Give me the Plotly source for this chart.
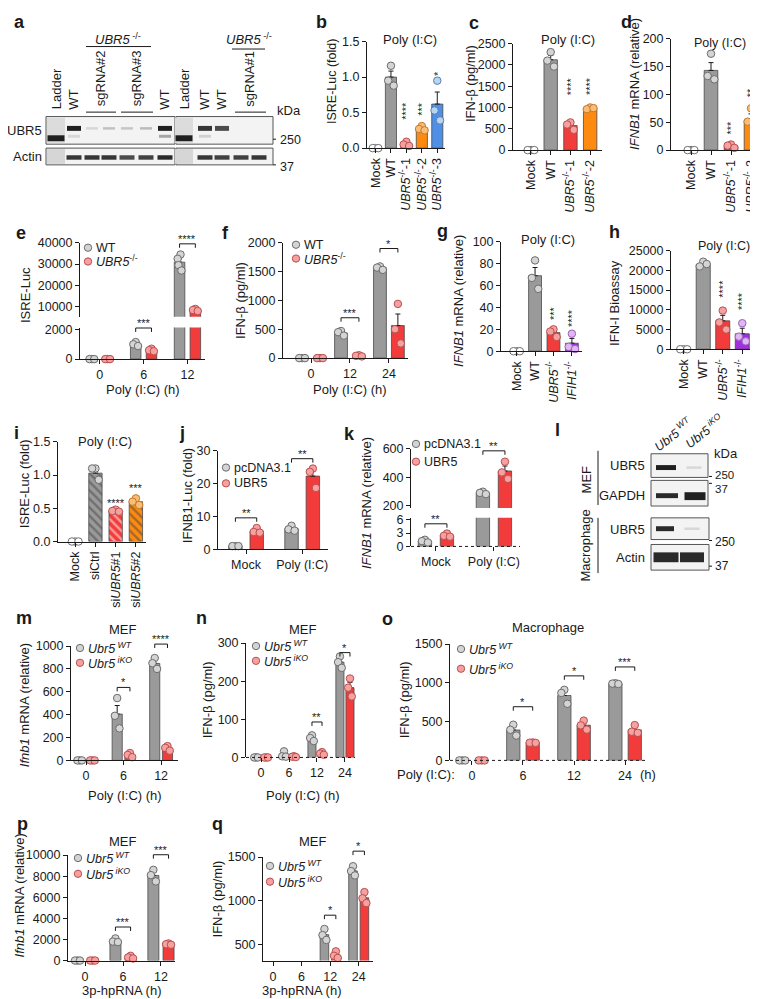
import plotly.graph_objects as go

# ============================ DATA ============================
# a: western blot, band intensity per lane (0..1)
A_LANES = ["Ladder", "WT", "sgRNA#2", "sgRNA#2", "sgRNA#3", "sgRNA#3", "WT", "Ladder", "WT", "WT", "sgRNA#1", "sgRNA#1"]
A_UBR5 = [0.0, 0.95, 0.12, 0.22, 0.2, 0.25, 0.95, 0.0, 0.85, 0.75, 0.0, 0.0]
A_UBR5_LOW = [0.0, 0.12, 0.0, 0.0, 0.0, 0.0, 0.35, 0.0, 0.15, 0.0, 0.0, 0.0]
A_LADDER = [0.95, 0, 0, 0, 0, 0, 0, 0.95, 0, 0, 0, 0]
A_ACTIN = [0.0, 0.85, 0.85, 0.85, 0.75, 0.8, 0.9, 0.0, 0.85, 0.8, 0.8, 0.85]

# b
B_CATS = ["Mock", "WT", "<i>UBR5</i><sup>-/-</sup>-1", "<i>UBR5</i><sup>-/-</sup>-2", "<i>UBR5</i><sup>-/-</sup>-3"]
B_MEAN = [None, 1.0, 0.06, 0.28, 0.62]
B_SEM = [0, 0.085, 0.018, 0.018, 0.17]
B_PTS = [[0, 0, 0], [1.16, 0.95, 0.88], [0.09, 0.05, 0.03], [0.31, 0.27, 0.25], [0.95, 0.53, 0.39]]
B_SIG = ["", "", "****", "***", "*"]
B_SIG_Y = [None, None, 0.39, 0.44, 1.0]
# c
C_CATS = ["Mock", "WT", "<i>UBR5</i><sup>-/-</sup>-1", "<i>UBR5</i><sup>-/-</sup>-2"]
C_MEAN = [None, 2120, 575, 975]
C_SEM = [0, 100, 55, 12]
C_PTS = [[0, 0, 0], [2300, 2100, 1960], [650, 600, 475], [1000, 960, 985]]
C_SIG = ["", "", "****", "****"]
C_SIG_Y = [None, None, 1273, 1273]
# d
D_CATS = ["Mock", "WT", "<i>UBR5</i><sup>-/-</sup>-1", "<i>UBR5</i><sup>-/-</sup>-2"]
D_MEAN = [None, 143, 7, 53]
D_SEM = [0, 14, 2, 12]
D_PTS = [[0, 0, 0], [173, 133, 127], [10, 8, 4], [75, 51, 34]]
D_SIG = ["", "", "***", "**"]
D_SIG_Y = [None, None, 26, 92]
# e
E_TIMES = ["0", "6", "12"]
E_WT_MEAN = [None, 1010, 30900]
E_WT_SEM = [0, 80, 1600]
E_WT_PTS = [[0, 0, 0], [1150, 1000, 880], [34500, 32500, 29500, 27000]]
E_KO_MEAN = [None, 610, 8500]
E_KO_SEM = [0, 50, 300]
E_KO_PTS = [[0, 0, 0], [700, 600, 530], [9000, 8500, 8000]]
E_SIG = ["", "***", "****"]
E_SIG_Y = [None, 2100, 39500]
# f
F_TIMES = ["0", "12", "24"]
F_WT_MEAN = [None, 435, 1565]
F_WT_SEM = [0, 20, 18]
F_WT_PTS = [[0, 0, 0], [470, 450, 390], [1590, 1570, 1530]]
F_KO_MEAN = [None, 40, 565]
F_KO_SEM = [0, 5, 200]
F_KO_PTS = [[0, 0, 0], [50, 40, 30], [940, 500, 255]]
F_SIG = ["", "***", "*"]
F_SIG_Y = [None, 700, 1900]
# g
G_CATS = ["Mock", "WT", "<i>UBR5</i><sup>-/-</sup>", "<i>IFIH1</i><sup>-/-</sup>"]
G_MEAN = [None, 69, 17, 7.3]
G_SEM = [0, 7.5, 2, 4.4]
G_PTS = [[0, 0, 0], [83, 67, 57], [20, 18, 13], [16, 4, 2]]
G_SIG = ["", "", "***", "****"]
G_SIG_Y = [None, None, 28, 21]
# h
H_CATS = ["Mock", "WT", "<i>UBR5</i><sup>-/-</sup>", "<i>IFIH1</i><sup>-/-</sup>"]
H_MEAN = [None, 21500, 7200, 3930]
H_SEM = [0, 350, 1400, 1400]
H_PTS = [[0, 0, 0], [22200, 21000, 21600], [9800, 6800, 5000], [6600, 3200, 2000]]
H_SIG = ["", "", "****", "****"]
H_SIG_Y = [None, None, 12750, 9750]
# i
I_CATS = ["Mock", "siCtrl", "si<i>UBR5</i>#1", "si<i>UBR5</i>#2"]
I_MEAN = [None, 1.03, 0.46, 0.6]
I_SEM = [0, 0.05, 0.01, 0.03]
I_PTS = [[0, 0, 0], [1.1, 1.1, 0.93], [0.48, 0.46, 0.45], [0.65, 0.6, 0.55]]
I_SIG = ["", "", "****", "***"]
I_SIG_Y = [None, None, 0.52, 0.74]
# j
J_GROUPS = ["Mock", "Poly (I:C)"]
J_PC_MEAN = [1.0, 6.3]
J_PC_SEM = [0.05, 0.45]
J_PC_PTS = [[1.0, 1.0, 1.0], [7.2, 6.1, 5.7]]
J_UB_MEAN = [5.6, 22.3]
J_UB_SEM = [0.45, 1.9]
J_UB_PTS = [[6.5, 5.3, 5.1], [24.6, 23.6, 18.7]]
J_SIG = ["**", "**"]
J_SIG_Y = [9.6, 27.6]
# k
K_GROUPS = ["Mock", "Poly (I:C)"]
K_PC_MEAN = [1.2, 292]
K_PC_SEM = [0.2, 6]
K_PC_PTS = [[1.5, 1.2, 0.9], [300, 292, 283]]
K_UB_MEAN = [2.5, 445]
K_UB_SEM = [0.2, 35]
K_UB_PTS = [[2.9, 2.4, 2.2], [510, 435, 390]]
K_SIG = ["**", "**"]
K_SIG_Y = [5.1, 586]
# m
M_TIMES = ["0", "6", "12"]
M_WT_MEAN = [None, 405, 848]
M_WT_SEM = [0, 75, 28]
M_WT_PTS = [[0, 0, 0], [545, 390, 280], [895, 850, 800]]
M_KO_MEAN = [None, 47, 107]
M_KO_SEM = [0, 11, 12]
M_KO_PTS = [[0, 0, 0], [65, 48, 28], [125, 110, 85]]
M_SIG = ["", "*", "****"]
M_SIG_Y = [None, 638, 1017]
# n
N_TIMES = ["0", "6", "12", "24"]
N_WT_MEAN = [None, 7, 51, 250]
N_WT_SEM = [0, 4.5, 4, 9]
N_WT_PTS = [[0, 0, 0], [16, 3, 2], [58, 51, 43], [265, 250, 235]]
N_KO_MEAN = [None, 2, 10, 183]
N_KO_SEM = [0, 0.6, 2, 14]
N_KO_PTS = [[0, 0, 0], [3, 2, 1], [14, 10, 7], [207, 183, 160]]
N_SIG = ["", "", "**", "*"]
N_SIG_Y = [None, None, 93, 275]
# o
O_TIMES = ["0", "6", "12", "24"]
O_WT_MEAN = [None, 392, 837, 990]
O_WT_SEM = [0, 40, 55, 3]
O_WT_PTS = [[0, 0, 0], [460, 395, 320], [910, 870, 730], [995, 990, 985]]
O_KO_MEAN = [None, 229, 454, 393]
O_KO_SEM = [0, 2, 33, 31]
O_KO_PTS = [[0, 0, 0], [232, 228, 226], [513, 452, 397], [455, 370, 355]]
O_SIG = ["", "*", "*", "***"]
O_SIG_Y = [None, 692, 1090, 1205]
# p
P_TIMES = ["0", "6", "12"]
P_WT_MEAN = [None, 1880, 8070]
P_WT_SEM = [0, 110, 320]
P_WT_PTS = [[0, 0, 0], [2100, 1800, 1750], [8600, 8100, 7500]]
P_KO_MEAN = [None, 320, 1560]
P_KO_SEM = [0, 70, 35]
P_KO_PTS = [[0, 0, 0], [450, 300, 200], [1620, 1550, 1500]]
P_SIG = ["", "***", "***"]
P_SIG_Y = [None, 3180, 10030]
# q
Q_TIMES = ["0", "6", "12", "24"]
Q_WT_MEAN = [None, None, 615, 1342]
Q_WT_SEM = [0, 0, 37, 30]
Q_WT_PTS = [[], [], [680, 610, 555], [1395, 1340, 1290]]
Q_KO_MEAN = [None, None, 383, 1035]
Q_KO_SEM = [0, 0, 24, 36]
Q_KO_PTS = [[], [], [425, 375, 350], [1100, 1030, 975]]
Q_SIG = ["", "", "*", "*"]
Q_SIG_Y = [None, None, 837, 1567]

# ============================ STYLE ============================
W, H = 758, 999
FONT = "Arial, Liberation Sans, Helvetica, sans-serif"
INK = "#1a1a1a"
BAR_EDGE = "#4a4a4a"
GRAY = ("#9a9a9a", "#d4d4d4", "#6c6c6c")
RED = ("#f23c3c", "#f6a0a0", "#b85050")
ORANGE = ("#ff8a10", "#fbbd76", "#c27a2c")
BLUE = ("#4f8fe6", "#b8d4f3", "#5b7fae")
PURPLE = ("#a12fe0", "#dfb7f2", "#9a62b8")
OPEN = ("#ffffff", "#ffffff", "#707070")
TICK = 12.5
LAB = 13

fig = go.Figure()
LAY = {}
ANN = []
SHP = []


def fx(px):
    return px / W


def fy(py):
    return 1 - py / H


def text(x, y, s, size=12.5, xa="center", ya="middle", angle=0, color=INK):
    ANN.append(dict(x=fx(x), y=fy(y), xref="paper", yref="paper", text=s, showarrow=False,
                    xanchor=xa, yanchor=ya, textangle=angle, borderpad=0,
                    font=dict(family=FONT, size=size, color=color)))


def line(x0, y0, x1, y1, color=INK, width=1, dash=None):
    ln = dict(color=color, width=width)
    if dash:
        ln["dash"] = dash
    SHP.append(dict(type="line", xref="paper", yref="paper", x0=fx(x0), y0=fy(y0),
                    x1=fx(x1), y1=fy(y1), line=ln))


def box(x0, y0, x1, y1, fill=None, color=None, width=0):
    SHP.append(dict(type="rect", xref="paper", yref="paper", x0=fx(x0), y0=fy(y1), x1=fx(x1), y1=fy(y0),
                    line=dict(width=width, color=color or "rgba(0,0,0,0)"),
                    fillcolor=fill or "rgba(0,0,0,0)"))


def band(cx, cy, w, h, a):
    SHP.append(dict(type="rect", xref="paper", yref="paper", x0=fx(cx - w / 2), x1=fx(cx + w / 2),
                    y0=fy(cy + h / 2), y1=fy(cy - h / 2), line=dict(width=0),
                    fillcolor="rgba(20,20,20,%.2f)" % a))


def circle(cx, cy, r, fill, edge):
    SHP.append(dict(type="circle", xref="paper", yref="paper", x0=fx(cx - r), x1=fx(cx + r),
                    y0=fy(cy + r), y1=fy(cy - r), fillcolor=fill, line=dict(color=edge, width=1)))


def letter(x, y, s):
    text(x, y, "<b>%s</b>" % s, size=18, xa="left", ya="middle")


def fmt(v):
    return str(int(v)) if float(v).is_integer() else str(v)


class Panel:
    count = 0

    def __init__(self, x0, x1, ytop, ybot, xr, yr):
        self.x0, self.x1, self.ytop, self.ybot, self.xr, self.yr = x0, x1, ytop, ybot, xr, yr
        Panel.count += 1
        self.sfx = "" if Panel.count == 1 else str(Panel.count)
        self.xref, self.yref = "x" + self.sfx, "y" + self.sfx

    def X(self, v):
        return self.x0 + (v - self.xr[0]) / (self.xr[1] - self.xr[0]) * (self.x1 - self.x0)

    def Y(self, v):
        return self.ybot - (v - self.yr[0]) / (self.yr[1] - self.yr[0]) * (self.ybot - self.ytop)

    def axes(self, xtv=None, xtt=None, xangle=0, ytv=None, ytt=None, show_x=True, show_y=True,
             xline=True, xfont=TICK, yfont=TICK):
        base = dict(showgrid=False, zeroline=False, linecolor=INK, linewidth=1, tickcolor=INK,
                    tickwidth=1, ticklen=4, fixedrange=True)
        xa = dict(base, domain=[fx(self.x0), fx(self.x1)], range=list(self.xr), anchor=self.yref,
                  showline=show_x and xline)
        if show_x and xtv is not None:
            xa.update(ticks="outside", tickmode="array", tickvals=xtv, ticktext=xtt, tickangle=xangle,
                      tickfont=dict(family=FONT, size=xfont, color=INK))
        else:
            xa.update(ticks="", showticklabels=False)
        ya = dict(base, domain=[fy(self.ybot), fy(self.ytop)], range=list(self.yr), anchor=self.xref,
                  showline=show_y)
        if show_y and ytv is not None:
            ya.update(ticks="outside", tickmode="array", tickvals=ytv,
                      ticktext=ytt if ytt else [fmt(v) for v in ytv],
                      tickfont=dict(family=FONT, size=yfont, color=INK))
        else:
            ya.update(ticks="", showticklabels=False)
        LAY["xaxis" + self.sfx] = xa
        LAY["yaxis" + self.sfx] = ya
        if show_x and not xline:
            line(self.x0, self.ybot, self.x1, self.ybot, dash="dot")


JIT = {1: [0.0], 2: [-0.6, 0.6], 3: [0.0, -0.75, 0.75], 4: [0.3, -0.6, -0.35, 0.6]}


def draw_bars(p, xs, means, sems, fills, width, patterns=None):
    keep = [i for i, m in enumerate(means) if m is not None]
    if not keep:
        return
    marker = dict(color=[fills[i] for i in keep], line=dict(color=BAR_EDGE, width=0.8))
    if patterns:
        marker["pattern"] = dict(shape=[patterns[i] for i in keep], fgcolor="white", size=6, solidity=0.4)
    fig.add_trace(go.Bar(x=[xs[i] for i in keep], y=[means[i] for i in keep], width=width, marker=marker,
                         error_y=dict(type="data", symmetric=False, array=[sems[i] for i in keep],
                                      arrayminus=[0] * len(keep), color=INK, thickness=1, width=2.5),
                         xaxis=p.xref, yaxis=p.yref, showlegend=False, hoverinfo="skip"))


def draw_points(p, xs, pts, fills, edges, spread, keep=None, size=7.5):
    X, Y, C, E = [], [], [], []
    for i, (x, vals) in enumerate(zip(xs, pts)):
        offs = JIT.get(len(vals), [0.0] * len(vals))
        for o, v in zip(offs, vals):
            if keep is not None and not keep(v):
                continue
            X.append(x + o * spread)
            Y.append(v)
            C.append(fills[i])
            E.append(edges[i])
    if X:
        fig.add_trace(go.Scatter(x=X, y=Y, mode="markers", cliponaxis=False,
                                 marker=dict(size=size, color=C, line=dict(color=E, width=1)),
                                 xaxis=p.xref, yaxis=p.yref, showlegend=False, hoverinfo="skip"))


def series(p, xs, means, sems, pts, col, width, keep=None):
    n = len(xs)
    draw_bars(p, xs, means, sems, [col[0]] * n, width)
    draw_points(p, xs, pts, [col[1]] * n, [col[2]] * n, width * 0.3, keep=keep)


def bracket(p, xa, xb, yv, s, leg=4, size=11):
    x0, x1, y = p.X(xa), p.X(xb), p.Y(yv)
    SHP.append(dict(type="path", xref="paper", yref="paper",
                    path="M %f,%f L %f,%f L %f,%f L %f,%f" % (fx(x0), fy(y + leg), fx(x0), fy(y), fx(x1), fy(y),
                                                               fx(x1), fy(y + leg)),
                    line=dict(color=INK, width=1)))
    text((x0 + x1) / 2, y + 2, s, size=size, ya="bottom")


def legend(x, y, col, label, size=12.5):
    circle(x, y, 3.7, col[1], col[2])
    text(x + 7, y, label, size=size, xa="left")


def cat_panel(p, cats, means, sems, pts, cols, width, ytv, ytt, sig, sig_y, vertical=True, patterns=None,
              xfont=TICK):
    xs = list(range(len(cats)))
    p.axes(xtv=xs, xtt=cats, xangle=-90, ytv=ytv, ytt=ytt, xfont=xfont)
    draw_bars(p, xs, means, sems, [c[0] for c in cols], width, patterns)
    draw_points(p, xs, pts, [c[1] for c in cols], [c[2] for c in cols], width * 0.33)
    for i, s in enumerate(sig):
        if s:
            if vertical:
                text(p.X(xs[i]), p.Y(sig_y[i]), s, size=11, ya="bottom", angle=-90)
            else:
                text(p.X(xs[i]), p.Y(sig_y[i]) + 3, s, size=11, ya="bottom")


def grouped(p, times, wt, ko, off, width, sig, sig_y, ytv, xtt=None, xline=True, cols=(GRAY, RED)):
    xs = list(range(len(times)))
    p.axes(xtv=xs, xtt=xtt or times, ytv=ytv, xline=xline)
    series(p, [x - off for x in xs], wt[0], wt[1], wt[2], cols[0], width)
    series(p, [x + off for x in xs], ko[0], ko[1], ko[2], cols[1], width)
    for i, s in enumerate(sig):
        if s:
            bracket(p, xs[i] - off, xs[i] + off, sig_y[i], s)


# ============================ a: blot ============================
A_X = [48, 66, 84, 101, 119, 138, 157, 176, 197, 214, 233, 251]
for xa_, xb_ in [(38, 167), (168, 265)]:
    box(xa_, 103, xb_, 131, fill="#f3f3f3", color="#555555", width=1)
    box(xa_, 135, xb_, 152, fill="#f3f3f3", color="#555555", width=1)
for i, x in enumerate(A_X):
    if A_LADDER[i] > 0:
        box(x - 9, 104, x + 9, 130, fill="#dcdcdc")
        box(x - 9, 136, x + 9, 151, fill="#d6d6d6")
        band(x, 125, 17, 6, A_LADDER[i])
    if A_UBR5[i] > 0:
        band(x, 115, 14 if A_UBR5[i] > 0.5 else 12, 5 if A_UBR5[i] > 0.5 else 2.5, A_UBR5[i])
    if A_UBR5_LOW[i] > 0:
        band(x, 123, 12, 3, A_UBR5_LOW[i])
    if A_ACTIN[i] > 0:
        band(x, 144.5, 15, 4.5, A_ACTIN[i])
for i, name in enumerate(A_LANES):
    if not name.startswith("sg"):
        text(A_X[i], 97, name, size=LAB, ya="bottom", angle=-90)
for name, i0, i1 in [("sgRNA#2", 2, 3), ("sgRNA#3", 4, 5), ("sgRNA#1", 10, 11)]:
    text((A_X[i0] + A_X[i1]) / 2, 94, name, size=LAB, ya="bottom", angle=-90)
    line(A_X[i0] - 6, 98.5, A_X[i1] + 7, 98.5)
text(110, 24, "<i>UBR5</i><sup> -/-</sup>", size=LAB)
line(78, 32, 143, 32)
text(241, 24, "<i>UBR5</i><sup> -/-</sup>", size=LAB)
line(224, 34.5, 257, 34.5)
text(268, 97, "kDa", size=LAB, xa="left")
text(271, 127, "250", size=12.5, xa="left")
line(265, 126, 268, 126)
text(271, 154, "37", size=12.5, xa="left")
line(265, 152, 268, 152)
text(35, 117, "UBR5", size=LAB, xa="right")
text(35, 143.5, "Actin", size=LAB, xa="right")

# ============================ b, c, d ============================
pb = Panel(359, 437, 27, 135, (-0.55, 4.5), (0, 1.5))
cat_panel(pb, B_CATS, B_MEAN, B_SEM, B_PTS, [OPEN, GRAY, RED, ORANGE, BLUE], 0.72,
          [0, 0.5, 1.0, 1.5], ["0.0", "0.5", "1.0", "1.5"], B_SIG, B_SIG_Y)
text(402, 25, "Poly (I:C)", size=LAB)
text(324, 68, "ISRE-Luc (fold)", size=12.5, angle=-90)

pc = Panel(505, 594, 29, 137, (-0.91, 3.6), (0, 2500))
cat_panel(pc, C_CATS, C_MEAN, C_SEM, C_PTS, [OPEN, GRAY, RED, ORANGE], 0.68,
          [0, 500, 1000, 1500, 2000, 2500], None, C_SIG, C_SIG_Y)
text(560, 25, "Poly (I:C)", size=LAB)
text(462, 70, "IFN-β (pg/ml)", size=LAB, angle=-90)

pd = Panel(663, 757, 24, 137, (-1.0, 3.7), (0, 200))
cat_panel(pd, D_CATS, D_MEAN, D_SEM, D_PTS, [OPEN, GRAY, RED, ORANGE], 0.68,
          [0, 50, 100, 150, 200], None, D_SIG, D_SIG_Y)
text(712, 28, "Poly (I:C)", size=12.5)
text(626, 70, "<i>IFNB1</i> mRNA (relative)", size=LAB, angle=-90)

# ============================ e (broken axis) ============================
pe_lo = Panel(72, 197, 317, 349, (-0.45, 2.4), (0, 2130))
pe_hi = Panel(72, 197, 231, 306, (-0.45, 2.4), (5350, 40000))
pe_lo.axes(xtv=[0, 1, 2], xtt=E_TIMES, ytv=[0, 2000])
pe_hi.axes(show_x=False, ytv=[10000, 20000, 30000, 40000])
E_OFF, E_W = 0.18, 0.24
for p_, keep in [(pe_lo, lambda v: v <= 2130), (pe_hi, lambda v: v > 2130)]:
    xs = [0, 1, 2]
    draw_bars(p_, [x - E_OFF for x in xs], E_WT_MEAN, E_WT_SEM, [GRAY[0]] * 3, E_W)
    draw_bars(p_, [x + E_OFF for x in xs], E_KO_MEAN, E_KO_SEM, [RED[0]] * 3, E_W)
    draw_points(p_, [x - E_OFF for x in xs], E_WT_PTS, [GRAY[1]] * 3, [GRAY[2]] * 3, E_W * 0.3, keep)
    draw_points(p_, [x + E_OFF for x in xs], E_KO_PTS, [RED[1]] * 3, [RED[2]] * 3, E_W * 0.3, keep)
for i, s in enumerate(E_SIG):
    if s:
        p_ = pe_hi if E_SIG_Y[i] > 2130 else pe_lo
        bracket(p_, i - E_OFF, i + E_OFF, E_SIG_Y[i], s)
legend(80, 236, GRAY, "WT")
legend(80, 250, RED, "<i>UBR5</i><sup>-/-</sup>")
text(135, 380, "Poly (I:C) (h)", size=LAB)
text(17, 284, "ISRE-Luc", size=LAB, angle=-90)

# ============================ f ============================
pf = Panel(275, 400, 231, 348, (-0.72, 2.49), (0, 2000))
grouped(pf, F_TIMES, (F_WT_MEAN, F_WT_SEM, F_WT_PTS), (F_KO_MEAN, F_KO_SEM, F_KO_PTS), 0.23, 0.33,
        F_SIG, F_SIG_Y, [0, 500, 1000, 1500, 2000])
legend(288, 233, GRAY, "WT")
legend(288, 247, RED, "<i>UBR5</i><sup>-/-</sup>")
text(342, 380, "Poly (I:C) (h)", size=LAB)
text(233, 290, "IFN-β (pg/ml)", size=LAB, angle=-90)

# ============================ g, h ============================
pg = Panel(493, 574, 230, 341, (-0.85, 3.55), (0, 100))
cat_panel(pg, G_CATS, G_MEAN, G_SEM, G_PTS, [OPEN, GRAY, RED, PURPLE], 0.7,
          [0, 20, 40, 60, 80, 100], None, G_SIG, G_SIG_Y)
text(540, 228, "Poly (I:C)", size=LAB)
text(451, 290, "<i>IFNB1</i> mRNA (relative)", size=LAB, angle=-90)

ph = Panel(663, 746, 239, 339, (-0.65, 3.6), (0, 25000))
cat_panel(ph, H_CATS, H_MEAN, H_SEM, H_PTS, [OPEN, GRAY, RED, PURPLE], 0.72,
          [0, 5000, 10000, 15000, 20000, 25000], None, H_SIG, H_SIG_Y)
text(716, 234, "Poly (I:C)", size=12.5)
text(607, 292, "IFN-I Bioassay", size=LAB, angle=-90)

# ============================ i ============================
pi = Panel(50, 138, 433, 534, (-0.85, 3.5), (0, 1.5))
cat_panel(pi, I_CATS, I_MEAN, I_SEM, I_PTS, [OPEN, GRAY, RED, ORANGE], 0.66,
          [0, 0.5, 1.0, 1.5], ["0.0", "0.5", "1.0", "1.5"], I_SIG, I_SIG_Y, vertical=False,
          patterns=["", "\\", "\\", "\\"])
text(97, 433, "Poly (I:C)", size=LAB)
text(16, 476, "ISRE-Luc (fold)", size=LAB, angle=-90)

# ============================ j ============================
pj = Panel(210, 320, 442, 542, (-0.5, 1.46), (0, 30))
grouped(pj, J_GROUPS, (J_PC_MEAN, J_PC_SEM, J_PC_PTS), (J_UB_MEAN, J_UB_SEM, J_UB_PTS), 0.19, 0.24,
        J_SIG, J_SIG_Y, [0, 10, 20, 30])
legend(218, 459, GRAY, "pcDNA3.1")
legend(218, 475, RED, "UBR5")
text(179, 488, "IFNB1-Luc (fold)", size=LAB, angle=-90)

# ============================ k (broken axis) ============================
pk_lo = Panel(403, 512, 510, 539, (-0.43, 1.45), (0, 6.44))
pk_hi = Panel(403, 512, 440, 500, (-0.43, 1.45), (186, 600))
pk_lo.axes(xtv=[0, 1], xtt=K_GROUPS, ytv=[0, 3, 6], xline=False)
pk_hi.axes(show_x=False, ytv=[200, 400, 600])
K_OFF, K_W = 0.19, 0.23
for p_, keep in [(pk_lo, lambda v: v <= 6.44), (pk_hi, lambda v: v > 6.44)]:
    xs = [0, 1]
    draw_bars(p_, [x - K_OFF for x in xs], K_PC_MEAN, K_PC_SEM, [GRAY[0]] * 2, K_W)
    draw_bars(p_, [x + K_OFF for x in xs], K_UB_MEAN, K_UB_SEM, [RED[0]] * 2, K_W)
    draw_points(p_, [x - K_OFF for x in xs], K_PC_PTS, [GRAY[1]] * 2, [GRAY[2]] * 2, K_W * 0.3, keep)
    draw_points(p_, [x + K_OFF for x in xs], K_UB_PTS, [RED[1]] * 2, [RED[2]] * 2, K_W * 0.3, keep)
for i, s in enumerate(K_SIG):
    p_ = pk_hi if K_SIG_Y[i] > 6.44 else pk_lo
    bracket(p_, i - K_OFF, i + K_OFF, K_SIG_Y[i], s)
legend(408, 435, GRAY, "pcDNA3.1")
legend(408, 453, RED, "UBR5")
text(358, 495, "<i>IFNB1</i> mRNA (relative)", size=LAB, angle=-90)

# ============================ l: blot ============================
box(643, 445, 700, 469, fill="#f3f3f3", color="#555555", width=1)
box(643, 472, 700, 498, fill="#f3f3f3", color="#555555", width=1)
box(643, 510, 701, 532, fill="#f3f3f3", color="#555555", width=1)
box(643, 537, 701, 563, fill="#f3f3f3", color="#555555", width=1)
band(658, 459, 20, 5, 0.95)
band(686, 459, 15, 2.5, 0.12)
band(659, 487.5, 22, 5, 0.9)
band(687, 488, 21, 8, 0.95)
band(657, 521, 18, 5, 0.9)
band(684, 521, 15, 2.5, 0.12)
band(658, 550, 25, 10, 0.9)
band(684, 550, 24, 10, 0.9)
text(665, 425, "<i>Ubr5</i><sup> <i>WT</i></sup>", size=12.5, angle=-38)
text(696, 422, "<i>Ubr5</i><sup> <i>iKO</i></sup>", size=12.5, angle=-38)
text(705, 445, "kDa", size=LAB, xa="left")
text(706, 467, "250", size=11.5, xa="left")
line(701, 468, 704, 468)
text(706, 480.5, "37", size=11.5, xa="left")
line(701, 475, 704, 475)
text(706, 534, "250", size=12, xa="left")
line(701, 533, 704, 533)
text(706, 559, "37", size=12, xa="left")
line(701, 559, 704, 559)
text(638, 457, "UBR5", size=LAB, xa="right")
text(638, 487, "GAPDH", size=LAB, xa="right")
text(638, 522, "UBR5", size=LAB, xa="right")
text(638, 550, "Actin", size=LAB, xa="right")
line(590, 442, 590, 497)
line(590, 510, 590, 566)
text(578, 471, "MEF", size=LAB, angle=-90)
text(577, 538, "Macrophage", size=LAB, angle=-90)

# ============================ m, n, o ============================
UBR5WT = "<i>Ubr5</i><sup> <i>WT</i></sup>"
UBR5KO = "<i>Ubr5</i><sup> <i>iKO</i></sup>"

pm = Panel(63, 170, 640, 756, (-0.4, 2.45), (0, 1000))
grouped(pm, M_TIMES, (M_WT_MEAN, M_WT_SEM, M_WT_PTS), (M_KO_MEAN, M_KO_SEM, M_KO_PTS), 0.17, 0.27,
        M_SIG, M_SIG_Y, [0, 200, 400, 600, 800, 1000])
legend(72, 642, GRAY, UBR5WT)
legend(72, 657, RED, UBR5KO)
text(115, 623, "MEF", size=LAB)
text(117, 792, "Poly (I:C) (h)", size=LAB)
text(16, 700, "<i>Ifnb1</i> mRNA (relative)", size=LAB, angle=-90)

pn = Panel(238, 347, 637, 753, (-0.54, 3.36), (0, 300))
grouped(pn, N_TIMES, (N_WT_MEAN, N_WT_SEM, N_WT_PTS), (N_KO_MEAN, N_KO_SEM, N_KO_PTS), 0.18, 0.29,
        N_SIG, N_SIG_Y, [0, 100, 200, 300], xline=False)
legend(248, 640, GRAY, UBR5WT)
legend(248, 655, RED, UBR5KO)
text(295, 623, "MEF", size=LAB)
text(295, 792, "Poly (I:C) (h)", size=LAB)
text(199, 695, "IFN-β (pg/ml)", size=LAB, angle=-90)

po = Panel(442, 638, 638, 756, (-0.43, 3.41), (0, 1500))
grouped(po, O_TIMES, (O_WT_MEAN, O_WT_SEM, O_WT_PTS), (O_KO_MEAN, O_KO_SEM, O_KO_PTS), 0.19, 0.26,
        O_SIG, O_SIG_Y, [0, 500, 1000, 1500], xline=False)
legend(453, 643, GRAY, UBR5WT)
legend(453, 663, RED, UBR5KO)
text(540, 621, "Macrophage", size=LAB)
text(418, 770, "Poly (I:C):", size=LAB)
text(640, 770, "(h)", size=LAB)
text(396, 695, "IFN-β (pg/ml)", size=LAB, angle=-90)

# ============================ p, q ============================
pp = Panel(60, 167, 852, 959, (-0.45, 2.37), (0, 10000))
grouped(pp, P_TIMES, (P_WT_MEAN, P_WT_SEM, P_WT_PTS), (P_KO_MEAN, P_KO_SEM, P_KO_PTS), 0.2, 0.29,
        P_SIG, P_SIG_Y, [0, 2000, 4000, 6000, 8000, 10000])
legend(70, 855, GRAY, UBR5WT)
legend(70, 871, RED, UBR5KO)
text(115, 838, "MEF", size=LAB)
text(113, 989, "3p-hpRNA (h)", size=LAB)
text(11, 893, "<i>Ifnb1</i> mRNA (relative)", size=LAB, angle=-90)

pq = Panel(255, 365, 854, 959, (-0.35, 3.5), (320, 1500))
grouped(pq, Q_TIMES, (Q_WT_MEAN, Q_WT_SEM, Q_WT_PTS), (Q_KO_MEAN, Q_KO_SEM, Q_KO_PTS), 0.2, 0.3,
        Q_SIG, Q_SIG_Y, [500, 1000, 1500])
legend(262, 863, GRAY, UBR5WT)
legend(262, 879, RED, UBR5KO)
text(305, 838, "MEF", size=LAB)
text(293, 989, "3p-hpRNA (h)", size=LAB)
text(209, 897, "IFN-β (pg/ml)", size=LAB, angle=-90)

# ============================ panel letters ============================
for s, x, y in [("a", 5, 7), ("b", 307, 7), ("c", 460, 8), ("d", 612, 7), ("e", 7, 221),
                ("f", 213, 221), ("g", 428, 219), ("h", 600, 220), ("i", 5, 424), ("j", 170, 424),
                ("k", 335, 425), ("l", 546, 421), ("m", 7, 612), ("n", 187, 612), ("o", 373, 613),
                ("p", 8, 821), ("q", 203, 821)]:
    letter(x, y, s)

fig.update_layout(width=W, height=H, margin=dict(l=0, r=0, t=0, b=0), paper_bgcolor="white",
                  plot_bgcolor="rgba(0,0,0,0)", barmode="overlay", showlegend=False,
                  font=dict(family=FONT, color=INK), annotations=ANN, shapes=SHP, **LAY)
fig.write_html("out.html")
